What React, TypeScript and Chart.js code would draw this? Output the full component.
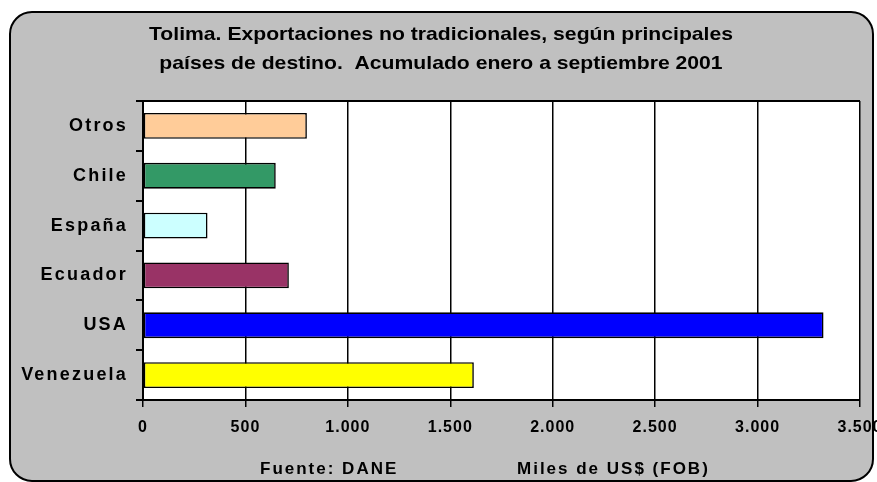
import { useEffect, useRef } from 'react';
import { Chart, registerables } from 'chart.js';

Chart.register(...registerables);

const categories = ['Otros', 'Chile', 'España', 'Ecuador', 'USA', 'Venezuela'];
const values = [800, 648, 315, 712, 3322, 1615];
const barColors = ['#FFCC99', '#339966', '#CCFFFF', '#993366', '#0000FF', '#FFFF00'];
const xMin = 0;
const xMax = 3500;
const xStep = 500;
const titleLines = [
  'Tolima. Exportaciones no tradicionales, según principales',
  'países de destino.  Acumulado enero a septiembre 2001',
];
const sourceNote = 'Fuente: DANE';
const unitNote = 'Miles de US$ (FOB)';

const FONT = '"Liberation Sans", Arial, sans-serif';
const fmt = (v: number) => String(Math.round(v)).replace(/\B(?=(\d{3})+(?!\d))/g, '.');

const framePlugin = {
  id: 'framePlugin',
  beforeDraw(chart: any) {
    const ctx = chart.ctx as CanvasRenderingContext2D;
    const ca = chart.chartArea;
    ctx.save();
    ctx.fillStyle = '#ffffff';
    ctx.fillRect(0, 0, chart.width, chart.height);
    ctx.beginPath();
    (ctx as any).roundRect(10, 12, 863, 469, 22);
    ctx.fillStyle = '#C0C0C0';
    ctx.fill();
    ctx.lineWidth = 2;
    ctx.strokeStyle = '#000000';
    ctx.stroke();
    ctx.fillStyle = '#ffffff';
    ctx.fillRect(ca.left, ca.top, ca.right - ca.left, ca.bottom - ca.top);
    ctx.lineWidth = 2;
    ctx.strokeStyle = '#000';
    ctx.beginPath();
    ctx.moveTo(ca.left, ca.top);
    ctx.lineTo(ca.right, ca.top);
    ctx.stroke();
    ctx.restore();
    const xs = chart.scales.x;
    if (xs && !xs._lsPatched) {
      const orig = xs.drawLabels.bind(xs);
      xs.drawLabels = (area: any) => {
        (ctx as any).letterSpacing = '1px';
        orig(area);
        (ctx as any).letterSpacing = '2.2px';
      };
      xs._lsPatched = true;
    }
    (ctx as any).letterSpacing = '2.2px';
  },
  afterDraw(chart: any) {
    const ctx = chart.ctx as CanvasRenderingContext2D;
    (ctx as any).letterSpacing = '0px';
    ctx.save();
    ctx.fillStyle = '#000';
    ctx.font = 'bold 19px ' + FONT;
    ctx.textAlign = 'center';
    ctx.textBaseline = 'alphabetic';
    const w = ctx.measureText(titleLines[0]).width;
    const sx = 584 / w;
    const ys = [40, 69];
    titleLines.forEach((line, i) => {
      ctx.save();
      ctx.translate(441, ys[i]);
      ctx.scale(sx, 1);
      ctx.fillText(line, 0, 0);
      ctx.restore();
    });
    ctx.font = 'bold 17px ' + FONT;
    (ctx as any).letterSpacing = '2px';
    ctx.textAlign = 'left';
    ctx.textBaseline = 'middle';
    ctx.fillText(sourceNote, 260, 469);
    ctx.fillText(unitNote, 517, 469);
    ctx.restore();
    (ctx as any).letterSpacing = '0px';
  },
};

export default function App() {
  const ref = useRef<HTMLCanvasElement | null>(null);
  useEffect(() => {
    if (!ref.current) return;
    const chart = new Chart(ref.current, {
      type: 'bar',
      data: {
        labels: categories,
        datasets: [
          {
            data: values,
            backgroundColor: barColors,
            borderColor: '#000',
            borderWidth: 1.6,
            borderSkipped: false,
            barPercentage: 0.52,
            categoryPercentage: 1,
          },
        ],
      },
      options: {
        indexAxis: 'y',
        responsive: false,
        animation: false,
        layout: { padding: { top: 101, right: 17, bottom: 0, left: 0 } },
        plugins: { legend: { display: false }, title: { display: false }, tooltip: { enabled: false } },
        scales: {
          x: {
            min: xMin,
            max: xMax,
            ticks: {
              stepSize: xStep,
              color: '#000',
              padding: 11,
              font: { family: FONT, size: 16, weight: 'bold' },
              callback: (v: any) => fmt(Number(v)),
              maxRotation: 0,
            },
            grid: { color: '#000', lineWidth: 1.5, tickLength: 7, drawOnChartArea: true },
            border: { display: true, color: '#000', width: 2 },
            afterFit: (s: any) => {
              s.height = 82;
              s.paddingLeft = 0;
              s.paddingRight = 0;
            },
          },
          y: {
            ticks: {
              color: '#000',
              padding: 8,
              font: { family: FONT, size: 18, weight: 'bold' },
            },
            grid: { display: true, drawOnChartArea: false, color: '#000', lineWidth: 2, tickLength: 7, offset: true },
            border: { display: true, color: '#000', width: 2 },
            afterFit: (s: any) => {
              s.width = 143;
              s.paddingTop = 0;
              s.paddingBottom = 0;
            },
          },
        },
      },
      plugins: [framePlugin],
    } as any);
    return () => chart.destroy();
  }, []);
  return (
    <div style={{ position: 'absolute', left: 0, top: 0, width: 877, height: 482 }}>
      <canvas ref={ref} width={877} height={482} style={{ display: 'block' }} />
    </div>
  );
}
